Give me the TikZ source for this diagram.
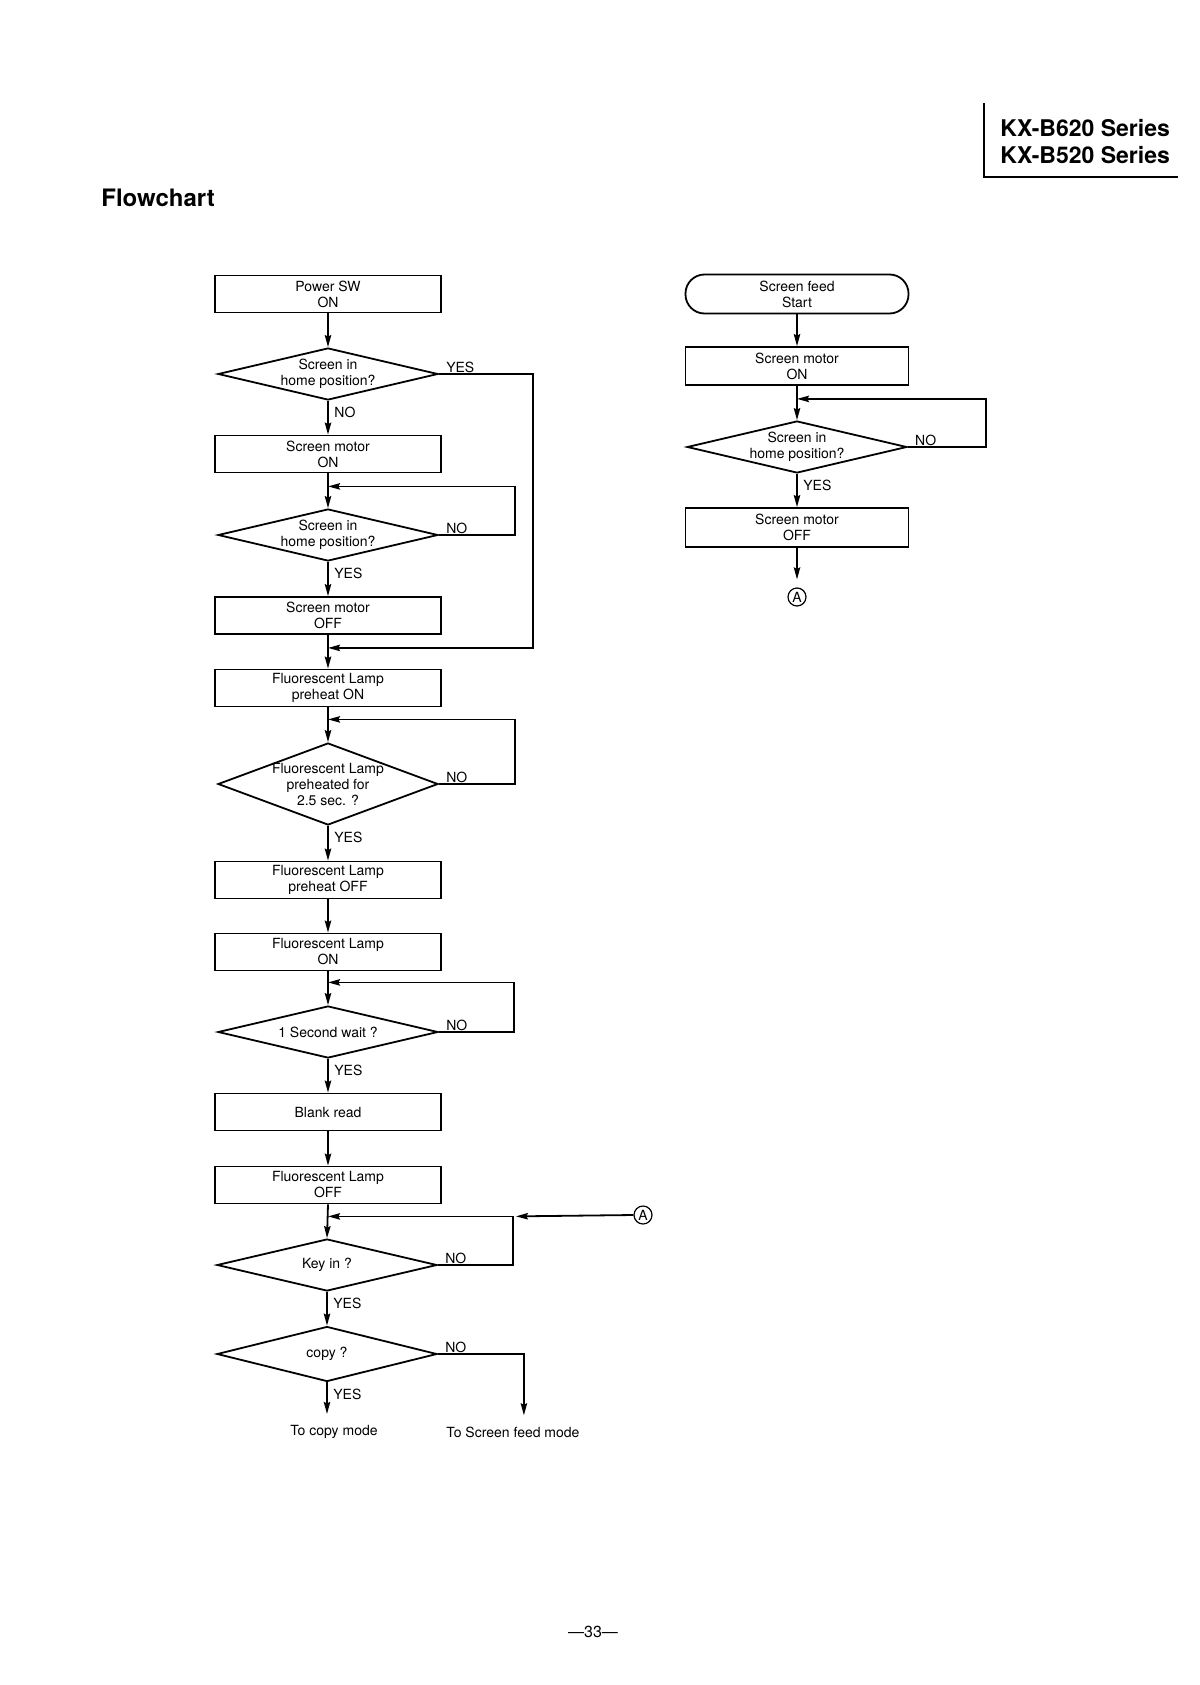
\documentclass[tikz,border=0pt]{standalone}
\usepackage{fontspec}
\setmainfont{TeX Gyre Heros}
\usepackage{tikz}
\usetikzlibrary{positioning,arrows.meta,shapes.geometric,calc}

\begin{document}
\begin{tikzpicture}[
  x=0.5pt, y=-0.5pt,
  bloc/.style={
    draw, line width=0.9pt,
    minimum width=113pt, minimum height=18.5pt,
    align=center, inner sep=1pt, font=\fontsize{7}{8}\selectfont
  },
  term/.style={bloc, rounded corners=9.5pt, minimum width=111.5pt, minimum height=19.5pt},
  deci/.style={
    draw, line width=0.9pt, diamond, aspect=4.23,
    minimum width=110pt, minimum height=26pt,
    align=center, inner sep=0pt, font=\fontsize{7}{8}\selectfont
  },
  lbl/.style={font=\fontsize{7}{8}\selectfont, inner sep=0.5pt},
  conn/.style={draw, circle, line width=0.6pt, minimum size=9pt, inner sep=0pt,
    font=\fontsize{7}{8}\selectfont},
  fl/.style={->, line width=0.9pt, >={Stealth[length=6pt,width=3.2pt,inset=0.8pt]}}
]
  \path[use as bounding box, fill=white] (0,0) rectangle (1199,1685);

  % --- En-tete ---
  \node[font=\fontsize{11.5}{14}\selectfont\bfseries, anchor=base west, inner sep=0pt]
    (ser1) at (1000,137) {KX-B620 Series};
  \node[font=\fontsize{11.5}{14}\selectfont\bfseries, anchor=base west, inner sep=0pt]
    (ser2) at (1000,164) {KX-B520 Series};
  \draw[line width=0.7pt] (984,103) -- (984,177) -- (1178,177);
  \node[font=\fontsize{12}{14}\selectfont\bfseries, anchor=base west, inner sep=0pt]
    (ttl) at (101,207) {Flowchart};

  % --- Colonne gauche ---
  \node[bloc] (pwr)   at (328,294)   {Power SW\\ON};
  \node[deci] (d1)    at (328,374)   {Screen in\\home position?};
  \node[bloc] (smon)  at (328,454)   {Screen motor\\ON};
  \node[deci] (d2)    at (328,535)   {Screen in\\home position?};
  \node[bloc] (smoff) at (328,615.5) {Screen motor\\OFF};
  \node[bloc] (fpre)  at (328,688)   {Fluorescent Lamp\\preheat ON};
  \node[deci, aspect=2.68, minimum height=41pt, inner xsep=-3pt]
              (d3)    at (328,784)   {Fluorescent Lamp\\preheated for\\2.5 sec. ?};
  \node[bloc] (fpoff) at (328,880)   {Fluorescent Lamp\\preheat OFF};
  \node[bloc] (flon)  at (328,952)   {Fluorescent Lamp\\ON};
  \node[deci] (d4)    at (328,1032)  {1 Second wait ?};
  \node[bloc] (blank) at (328,1112)  {Blank read};
  \node[bloc] (floff) at (328,1185)  {Fluorescent Lamp\\OFF};
  \node[deci] (dkey)  at (327,1265)  {Key in ?};
  \node[deci, minimum height=27.5pt]
              (dcopy) at (327,1354)  {copy ?};
  \node[lbl]  (tcopy) at (334,1432)  {To copy mode};
  \node[lbl]  (tfeed) at (513,1432)  {To Screen feed mode};
  \node[conn] (la)    at (643,1215)  {A};

  % --- Colonne droite ---
  \node[term] (sfst)  at (797,294)   {Screen feed\\Start};
  \node[bloc, minimum width=111.5pt, minimum height=19pt]
              (rmon)  at (797,366)   {Screen motor\\ON};
  \node[deci, minimum width=109pt]
              (rd)    at (797,447)   {Screen in\\home position?};
  \node[bloc, minimum width=111.5pt, minimum height=19.5pt]
              (rmoff) at (797,527.5) {Screen motor\\OFF};
  \node[conn] (ra)    at (797,597)   {A};

  % --- Fleches, colonne gauche ---
  \draw[fl] (pwr.south)   -- (d1.north);
  \draw[fl] (d1.south)    -- (smon.north);
  \draw[fl] (smon.south)  -- (d2.north);
  \draw[fl] (d2.south)    -- (smoff.north);
  \draw[fl] (smoff.south) -- (fpre.north);
  \draw[fl] (fpre.south)  -- (d3.north);
  \draw[fl] (d3.south)    -- (fpoff.north);
  \draw[fl] (fpoff.south) -- (flon.north);
  \draw[fl] (flon.south)  -- (d4.north);
  \draw[fl] (d4.south)    -- (blank.north);
  \draw[fl] (blank.south) -- (floff.north);
  \draw[fl] (floff.south) -- (dkey.north);
  \draw[fl] (dkey.south)  -- (dcopy.north);
  \draw[fl, shorten >=5pt] (dcopy.south) -- (dcopy.south |- tcopy.north);

  % boucles de retour (NO / YES)
  \coordinate (j1) at ($(smoff.south)+(0,13)$);
  \draw[fl] (d1.east) -- ++(94,0) |- (j1);
  \coordinate (j2) at ($(smon.south)+(0,13)$);
  \draw[fl] (d2.east) -- ++(76,0) |- (j2);
  \coordinate (j3) at ($(fpre.south)+(0,12)$);
  \draw[fl] (d3.east) -- ++(76,0) |- (j3);
  \coordinate (j4) at ($(flon.south)+(0,11)$);
  \draw[fl] (d4.east) -- ++(75,0) |- (j4);
  \coordinate (j5) at ($(floff.south)+(0,12)$);
  \coordinate (kR) at ($(dkey.east)+(75,0)$);
  \draw[fl] (dkey.east) -- (kR) |- (j5);
  \draw[fl, shorten >=1.5pt] (la.west) -- (kR |- j5);

  % copy ? NO -> mode avance ecran
  \coordinate (cR) at ($(dcopy.east)+(86,0)$);
  \draw[fl, shorten >=5pt] (dcopy.east) -- (cR) -- (cR |- tfeed.north);

  % --- Fleches, colonne droite ---
  \draw[fl] (sfst.south) -- (rmon.north);
  \draw[fl] (rmon.south) -- (rd.north);
  \coordinate (rj) at ($(rmon.south)+(0,13)$);
  \draw[fl] (rd.east) -- ++(78,0) |- (rj);
  \draw[fl] (rd.south) -- (rmoff.north);
  \draw[fl, shorten >=4pt] (rmoff.south) -- (ra.north);

  % --- Etiquettes ---
  \node[lbl, above right=0pt and 3pt]     at (d1.east)    {YES};
  \node[lbl, below right=2.5pt and 2.5pt] at (d1.south)   {NO};
  \node[lbl, above right=0pt and 3pt]     at (d2.east)    {NO};
  \node[lbl, below right=2.5pt and 2.5pt] at (d2.south)   {YES};
  \node[lbl, above right=0pt and 3pt]     at (d3.east)    {NO};
  \node[lbl, below right=2.5pt and 2.5pt] at (d3.south)   {YES};
  \node[lbl, above right=0pt and 3pt]     at (d4.east)    {NO};
  \node[lbl, below right=2.5pt and 2.5pt] at (d4.south)   {YES};
  \node[lbl, above right=0pt and 3pt]     at (dkey.east)  {NO};
  \node[lbl, below right=2.5pt and 2.5pt] at (dkey.south) {YES};
  \node[lbl, above right=0pt and 3pt]     at (dcopy.east) {NO};
  \node[lbl, below right=2.5pt and 2.5pt] at (dcopy.south){YES};
  \node[lbl, above right=0pt and 3pt]     at (rd.east)    {NO};
  \node[lbl, below right=2.5pt and 2.5pt] at (rd.south)   {YES};

  % --- Numero de page ---
  \node[font=\fontsize{8}{9}\selectfont] (pg) at (593,1632) {---33---};

\end{tikzpicture}
\end{document}
